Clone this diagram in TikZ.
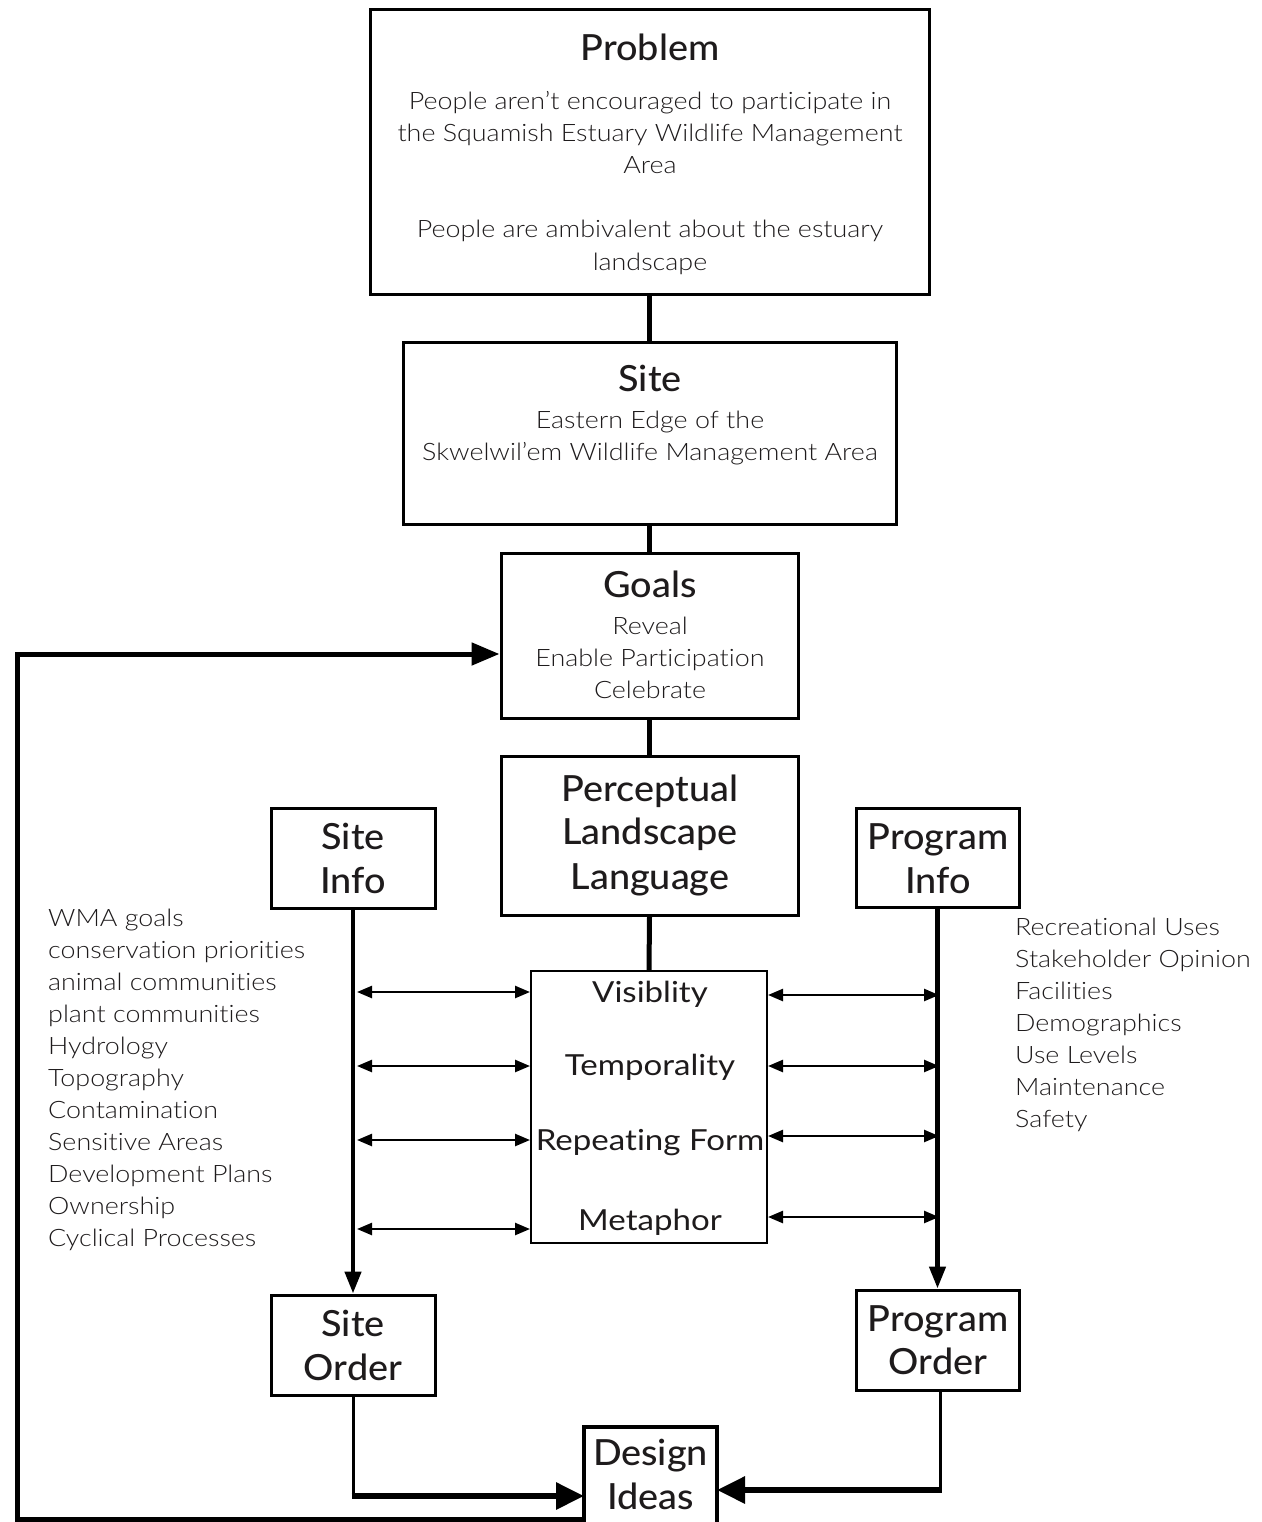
\documentclass[tikz,border=0pt]{standalone}
\usepackage{fontspec}
\usetikzlibrary{arrows.meta}
\IfFontExistsTF{Lato Light}{\newfontfamily\lightf{Lato Light}[FakeStretch=1.12,Ligatures=NoCommon]}{\newfontfamily\lightf{Lato}[FakeStretch=1.12,Ligatures=NoCommon]}
\IfFontExistsTF{Lato Medium}{\newfontfamily\medf{Lato Medium}[FakeStretch=1.05,Ligatures=NoCommon]}{%
  \IfFontExistsTF{Lato Semibold}{\newfontfamily\medf{Lato Semibold}[FakeStretch=1.05,Ligatures=NoCommon]}{\newfontfamily\medfx{Lato}[FakeStretch=1.05,Ligatures=NoCommon]\def\medf{\medfx\bfseries}}}
\newfontfamily\regf{Lato}[FakeStretch=1.14,Ligatures=NoCommon]
\definecolor{ink}{RGB}{30,27,28}
\tikzset{
  box/.style={draw=black, line width=3pt, inner sep=0pt, fill=white},
  body/.style={anchor=base, inner sep=0pt, text=ink, font=\lightf\fontsize{24}{32}\selectfont},
  head/.style={anchor=base, inner sep=0pt, text=ink, font=\medf\fontsize{36}{44}\selectfont},
  concept/.style={anchor=base, inner sep=0pt, text=ink, font=\regf\fontsize{29}{35}\selectfont},
  listtxt/.style={anchor=base west, inner sep=0pt, text=ink, font=\lightf\fontsize{24}{32}\selectfont},
  link/.style={draw=black, line width=5pt},
  darr/.style={draw=black, line width=2.5pt, {Triangle[length=15pt,width=12pt]}-{Triangle[length=15pt,width=12pt]}},
  varr/.style={draw=black, line width=4.5pt, -{Triangle[length=22pt,width=16pt]}},
  bigarr/.style={draw=black, line width=6pt, -{Triangle[length=28pt,width=26pt]}},
}
\begin{document}
\begin{tikzpicture}[x=1pt,y=-1pt]
\useasboundingbox (0,0) rectangle (1261,1522);
% boxes
\node[box, minimum width=559pt, minimum height=284pt] (problem) at (649.5,152) {};
\node[box, minimum width=493pt, minimum height=182pt] (site) at (649.5,433) {};
\node[box, minimum width=297pt, minimum height=165pt] (goals) at (649.5,635.5) {};
\node[box, minimum width=297pt, minimum height=159pt] (pll) at (649.5,835.5) {};
\node[box, minimum width=164pt, minimum height=100pt] (siteinfo) at (353,858) {};
\node[box, minimum width=163pt, minimum height=99pt] (proginfo) at (937.5,857.5) {};
\node[box, line width=2pt, minimum width=236pt, minimum height=272pt] (concepts) at (649,1107) {};
\node[box, minimum width=164pt, minimum height=100pt] (siteorder) at (353,1345) {};
\node[box, minimum width=163pt, minimum height=100pt] (progorder) at (937.5,1340) {};
\node[box, line width=4.5pt, minimum width=133pt, minimum height=104pt] (design) at (650.5,1479) {};

% texts
\node[head] (tproblem) at (650,61) {Problem};
\node[body] (tp1) at (650,110) {People aren’t encouraged to participate in};
\node[body] (tp2) at (650,142) {the Squamish Estuary Wildlife Management};
\node[body] (tp3) at (650,174) {Area};
\node[body] (tp4) at (650,238) {People are ambivalent about the estuary};
\node[body] (tp5) at (650,270) {landscape};

\node[head] (tsite) at (650,391) {Site};
\node[body] (ts1) at (650,428) {Eastern Edge of the};
\node[body] (ts2) at (650,460) {Skwelwil’em Wildlife Management Area};

\node[head] (tgoals) at (650,597) {Goals};
\node[body] (tg1) at (650,634) {Reveal};
\node[body] (tg2) at (650,666) {Enable Participation};
\node[body] (tg3) at (650,698) {Celebrate};

\node[head] (tpll1) at (650,801) {Perceptual};
\node[head] (tpll2) at (650,844) {Landscape};
\node[head] (tpll3) at (650,889) {Language};

\node[head] (tsi1) at (353,849) {Site};
\node[head] (tsi2) at (353,893) {Info};
\node[head] (tpi1) at (938,849) {Program};
\node[head] (tpi2) at (938,893) {Info};

\node[concept] (c1) at (650,1002) {Visiblity};
\node[concept] (c2) at (650,1075) {Temporality};
\node[concept] (c3) at (650,1150) {Repeating Form};
\node[concept] (c4) at (650,1230) {Metaphor};

\node[head] (tso1) at (353,1336) {Site};
\node[head] (tso2) at (353,1380) {Order};
\node[head] (tpo1) at (938,1331) {Program};
\node[head] (tpo2) at (938,1374) {Order};

\node[head] (td1) at (650.5,1465) {Design};
\node[head] (td2) at (650.5,1509) {Ideas};

% lists
\foreach \t [count=\i from 0] in {WMA goals, conservation priorities, animal communities, plant communities, Hydrology, Topography, Contamination, Sensitive Areas, Development Plans, Ownership, Cyclical Processes}
  \node[listtxt] (sl\i) at (48,926+32*\i) {\t};
\foreach \t [count=\i from 0] in {Recreational Uses, Stakeholder Opinion, Facilities, Demographics, Use Levels, Maintenance, Safety}
  \node[listtxt] (pl\i) at (1015,935+32*\i) {\t};

% main chain
\draw[link] (problem.south) -- (site.north);
\draw[link] (site.south) -- (goals.north);
\draw[link] (goals.south) -- (pll.north);
\draw[link] (pll.south) -- (concepts.north);

% info to order
\draw[varr] (siteinfo.south) -- (siteorder.north);
\draw[varr] (proginfo.south) -- (progorder.north);

% double arrows
\foreach \y [count=\i] in {992,1066,1140,1229} {
  \coordinate (L\i) at (357,\y);
  \draw[darr] (L\i) -- (concepts.west |- L\i);
}
\foreach \y [count=\i] in {995,1066,1136,1217} {
  \coordinate (R\i) at (939,\y);
  \draw[darr] (concepts.east |- R\i) -- (R\i);
}

% order to design
\coordinate (dl) at (584,1496);
\coordinate (dr) at (717,1490);
\draw[draw=black, line width=3pt] (siteorder.south) -- (siteorder.south |- dl);
\draw[bigarr] ([xshift=-1.5pt]siteorder.south |- dl) -- (dl);
\draw[draw=black, line width=3pt] ([xshift=2.5pt]progorder.south) -- ([xshift=2.5pt]progorder.south |- dr);
\draw[bigarr] ([xshift=4pt]progorder.south |- dr) -- (dr);

% feedback loop
\coordinate (fb1) at (584,1519);
\coordinate (fb2) at (17,1519);
\coordinate (fb3) at (17,654);
\coordinate (fb4) at (501,654);
\draw[draw=black, line width=5pt, -{Triangle[length=28pt,width=22pt]}] (fb1) -- (fb2) -- (fb3) -- (goals.west |- fb4);
\end{tikzpicture}
\end{document}
